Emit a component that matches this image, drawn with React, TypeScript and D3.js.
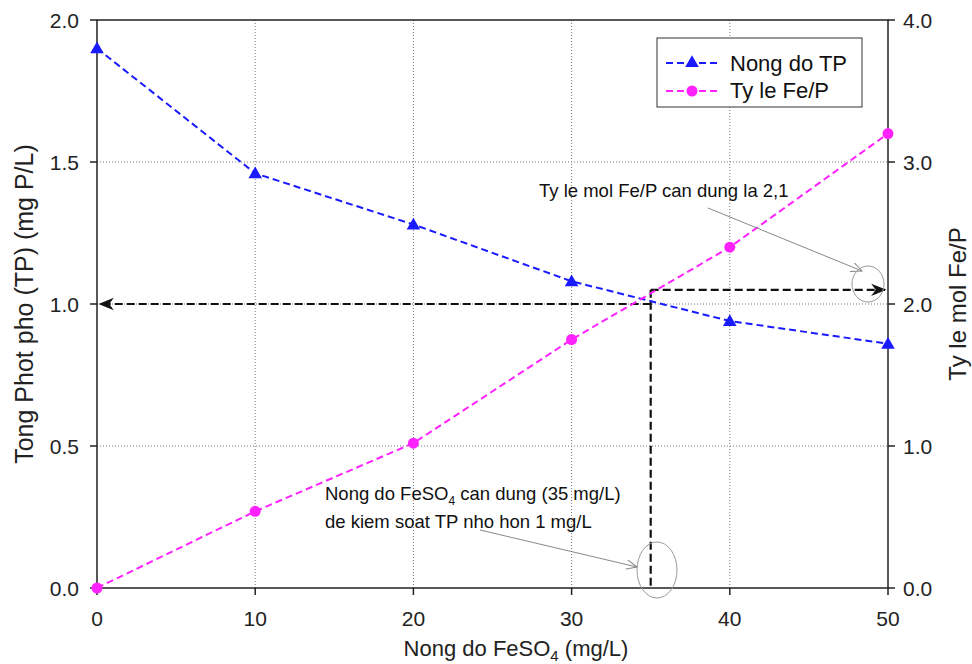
import React from "react";
import * as d3 from "d3";

const doses = [0, 10, 20, 30, 40, 50];
const tpValues = [1.9, 1.46, 1.28, 1.08, 0.94, 0.86];
const ratioValues = [0, 0.54, 1.02, 1.75, 2.4, 3.2];
const xTicks = [0, 10, 20, 30, 40, 50];
const yLeftTicks = [0, 0.5, 1.0, 1.5, 2.0];
const yRightTicks = [0, 1, 2, 3, 4];
const targetDose = 35;
const targetTP = 1.0;
const targetRatio = 2.1;

const W = 972, H = 664;
const L = 97, R = 888, T = 20, B = 588;
const FONT = "Liberation Sans, Arial, sans-serif";

export default function App() {
  const x = d3.scaleLinear().domain([0, 50]).range([L, R]);
  const yL = d3.scaleLinear().domain([0, 2]).range([B, T]);
  const yR = d3.scaleLinear().domain([0, 4]).range([B, T]);
  const tpLine = d3.line<number>().x((_, i) => x(doses[i])).y((d) => yL(d));
  const rLine = d3.line<number>().x((_, i) => x(doses[i])).y((d) => yR(d));
  const tri = d3.symbol().type(d3.symbolTriangle).size(80)();
  const xd = x(targetDose);
  const yTP = yL(targetTP);
  const yRt = yR(targetRatio);

  return (
    <div style={{ position: "absolute", left: 0, top: 0 }}>
      <svg width={W} height={H} style={{ display: "block", fontFamily: FONT }}>
        <defs>
          <marker id="ah" viewBox="0 0 10 10" refX="9" refY="5" markerWidth="7" markerHeight="7" orient="auto-start-reverse">
            <path d="M0,1 L10,5 L0,9 L3,5 z" fill="#111" />
          </marker>
          <marker id="gah" viewBox="0 0 12 10" refX="11" refY="5" markerWidth="12" markerHeight="10" markerUnits="userSpaceOnUse" orient="auto">
            <path d="M0,0 L11,5 L0,10" fill="none" stroke="#888" strokeWidth="1" />
          </marker>
        </defs>
        <rect x={0} y={0} width={W} height={H} fill="#fff" />
        {/* grid */}
        {xTicks.slice(1, -1).map((t) => (
          <line key={"gx" + t} x1={x(t)} x2={x(t)} y1={T} y2={B} stroke="#777" strokeWidth={1} strokeDasharray="1,2" />
        ))}
        {yLeftTicks.slice(1, -1).map((t) => (
          <line key={"gy" + t} x1={L} x2={R} y1={yL(t)} y2={yL(t)} stroke="#777" strokeWidth={1} strokeDasharray="1,2" />
        ))}
        {/* frame */}
        <rect x={L} y={T} width={R - L} height={B - T} fill="none" stroke="#222" strokeWidth={1.5} />
        {/* ticks */}
        {xTicks.map((t) => (
          <g key={"xt" + t}>
            <line x1={x(t)} x2={x(t)} y1={B} y2={B + 7} stroke="#222" strokeWidth={1.5} />
            <text x={x(t)} y={B + 38} textAnchor="middle" fontSize={21} fill="#222">{t}</text>
          </g>
        ))}
        {yLeftTicks.map((t) => (
          <g key={"yl" + t}>
            <line x1={L - 7} x2={L} y1={yL(t)} y2={yL(t)} stroke="#222" strokeWidth={1.5} />
            <text x={L - 18} y={yL(t) + 8} textAnchor="end" fontSize={21} fill="#222">{t.toFixed(1)}</text>
          </g>
        ))}
        {yRightTicks.map((t) => (
          <g key={"yr" + t}>
            <line x1={R} x2={R + 7} y1={yR(t)} y2={yR(t)} stroke="#222" strokeWidth={1.5} />
            <text x={R + 15} y={yR(t) + 8} textAnchor="start" fontSize={21} fill="#222">{t.toFixed(1)}</text>
          </g>
        ))}
        {/* axis titles */}
        <text x={516} y={656} textAnchor="middle" fontSize={22} fill="#222">
          Nong do FeSO<tspan fontSize={15} dy={5}>4</tspan><tspan dy={-5}> (mg/L)</tspan>
        </text>
        <text transform={`translate(33,${(T + B) / 2}) rotate(-90)`} textAnchor="middle" fontSize={25} fill="#222">
          Tong Phot pho (TP) (mg P/L)
        </text>
        <text transform={`translate(966,${(T + B) / 2}) rotate(-90)`} textAnchor="middle" fontSize={24} fill="#222">
          Ty le mol Fe/P
        </text>
        {/* guide dashed lines */}
        <line x1={xd} x2={L + 3} y1={yTP} y2={yTP} stroke="#111" strokeWidth={2.2} strokeDasharray="8,4" markerEnd="url(#ah)" />
        <line x1={xd} x2={xd} y1={yRt} y2={B} stroke="#111" strokeWidth={2.2} strokeDasharray="8,4" />
        <line x1={xd} x2={R - 3} y1={yRt} y2={yRt} stroke="#111" strokeWidth={2.2} strokeDasharray="8,4" markerEnd="url(#ah)" />
        {/* series */}
        <path d={tpLine(tpValues) || ""} fill="none" stroke="#1a1aff" strokeWidth={2} strokeDasharray="7,4" />
        <path d={rLine(ratioValues) || ""} fill="none" stroke="#ff22ff" strokeWidth={2} strokeDasharray="7,4" />
        {tpValues.map((v, i) => (
          <path key={"tp" + i} d={tri || ""} transform={`translate(${x(doses[i])},${yL(v) + 1})`} fill="#1a1aff" />
        ))}
        {ratioValues.map((v, i) => (
          <circle key={"r" + i} cx={x(doses[i])} cy={yR(v)} r={5.5} fill="#ff22ff" />
        ))}
        {/* annotations */}
        <text x={539} y={197} fontSize={18.5} fill="#111">Ty le mol Fe/P can dung la 2,1</text>
        <line x1={708} y1={208} x2={862} y2={271} stroke="#888" strokeWidth={1} markerEnd="url(#gah)" />
        <ellipse cx={868} cy={284} rx={16} ry={18} fill="none" stroke="#999" strokeWidth={1} />
        <text x={325} y={500} fontSize={18.5} fill="#111">
          Nong do FeSO<tspan fontSize={12} dy={5}>4</tspan><tspan dy={-5}> can dung (35 mg/L)</tspan>
        </text>
        <text x={325} y={528} fontSize={18.5} fill="#111">de kiem soat TP nho hon 1 mg/L</text>
        <line x1={480} y1={530} x2={637} y2={567} stroke="#888" strokeWidth={1} markerEnd="url(#gah)" />
        <ellipse cx={657} cy={570} rx={20} ry={28} fill="none" stroke="#999" strokeWidth={1} />
        {/* legend */}
        <rect x={657} y={38} width={205} height={69} fill="#fff" stroke="#333" strokeWidth={1} />
        <line x1={666} x2={718} y1={63} y2={63} stroke="#1a1aff" strokeWidth={2} strokeDasharray="7,4" />
        <path d={tri || ""} transform="translate(692,63)" fill="#1a1aff" />
        <text x={730} y={71} fontSize={22} fill="#111">Nong do TP</text>
        <line x1={666} x2={718} y1={91} y2={91} stroke="#ff22ff" strokeWidth={2} strokeDasharray="7,4" />
        <circle cx={692} cy={91} r={5.5} fill="#ff22ff" />
        <text x={730} y={98} fontSize={22} fill="#111">Ty le Fe/P</text>
      </svg>
    </div>
  );
}
